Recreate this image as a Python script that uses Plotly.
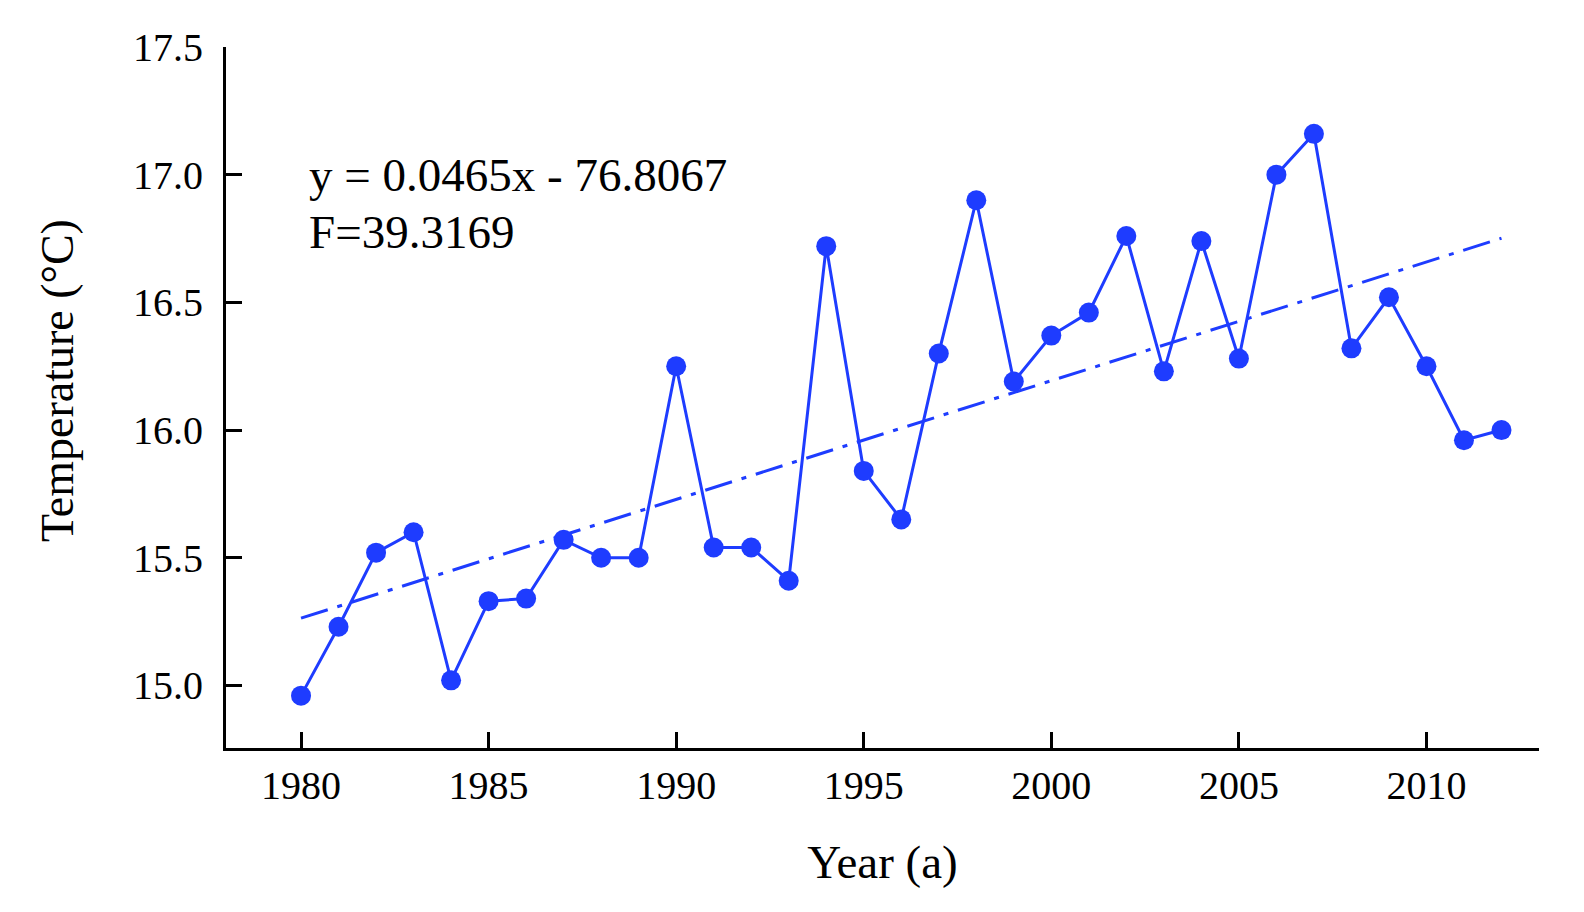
import plotly.graph_objects as go

years = list(range(1980, 2013))
temps = [14.96, 15.23, 15.52, 15.60, 15.02, 15.33, 15.34, 15.57, 15.50, 15.50,
         16.25, 15.54, 15.54, 15.41, 16.72, 15.84, 15.65, 16.30, 16.90, 16.19,
         16.37, 16.46, 16.76, 16.23, 16.74, 16.28, 17.00, 17.16, 16.32, 16.52,
         16.25, 15.96, 16.00]
slope = 0.0465
intercept = -76.8067
trend_x = [1980, 2012]
trend_y = [slope * x + intercept for x in trend_x]

blue = "rgb(30,60,255)"
font = "Liberation Serif, Times New Roman, serif"

fig = go.Figure()
fig.add_trace(go.Scatter(x=trend_x, y=trend_y, mode="lines",
                         line=dict(color=blue, width=3, dash="28px,10px,5px,10px"),
                         showlegend=False))
fig.add_trace(go.Scatter(x=years, y=temps, mode="lines+markers",
                         line=dict(color=blue, width=3),
                         marker=dict(color=blue, size=20),
                         showlegend=False))

fig.add_annotation(x=1980.15, y=17.0, xref="x", yref="y", xanchor="left", yanchor="middle",
                   text="y = 0.0465x - 76.8067", showarrow=False,
                   font=dict(family=font, size=47, color="black"))
fig.add_annotation(x=1980.15, y=16.775, xref="x", yref="y", xanchor="left", yanchor="middle",
                   text="F=39.3169", showarrow=False,
                   font=dict(family=font, size=47, color="black"))
fig.add_annotation(x=-0.1287, y=0.5235, xref="paper", yref="paper",
                   xanchor="center", yanchor="middle", textangle=-90,
                   text="Temperature (°C)", showarrow=False,
                   font=dict(family=font, size=46, color="black"))

fig.update_layout(
    width=1568, height=896,
    margin=dict(l=218, r=37, t=39, b=156),
    plot_bgcolor="white", paper_bgcolor="white",
    font=dict(family=font, size=40, color="black"),
)
fig.update_xaxes(range=[1978, 2013], tickvals=[1980, 1985, 1990, 1995, 2000, 2005, 2010],
                 ticks="inside", ticklen=16, tickwidth=3, tickcolor="black",
                 showline=True, linecolor="black", linewidth=3, showgrid=False, zeroline=False,
                 automargin=False,
                 title=dict(text="Year (a)", font=dict(size=47), standoff=39),
                 tickfont=dict(size=40))
fig.update_yaxes(range=[14.755, 17.5], tickvals=[15.0, 15.5, 16.0, 16.5, 17.0, 17.5],
                 ticktext=["15.0", "15.5", "16.0", "16.5", "17.0", "17.5"],
                 ticks="inside", ticklen=16, tickwidth=3, tickcolor="black",
                 showline=True, linecolor="black", linewidth=3, showgrid=False, zeroline=False,
                 automargin=False, ticklabelstandoff=12,
                 tickfont=dict(size=40))

fig.write_html("out.html")
